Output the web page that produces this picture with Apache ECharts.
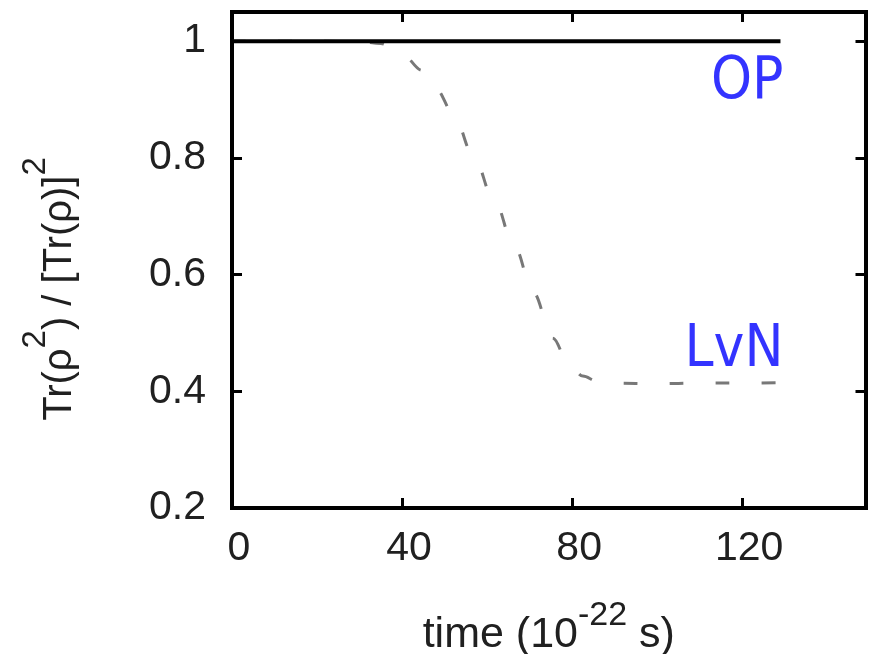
<!DOCTYPE html>
<html>
<head>
<meta charset="utf-8">
<script src="https://cdn.jsdelivr.net/npm/echarts@6/dist/echarts.min.js"></script>
<style>
  html, body { margin: 0; padding: 0; background: #fff; }
  #chart { width: 873px; height: 654px; }
</style>
</head>
<body>
<div id="chart"></div>
<script>
// Purity Tr(rho^2)/[Tr(rho)]^2 versus time (units of 1e-22 s)
const timeOP = [0, 129];
const purityOP = [1, 1];

const timeLvN = [0, 20, 30, 35, 40, 44.7, 48, 52, 56.7, 61.6, 66.5, 70.8, 75.5, 79, 82.5, 86, 90, 100, 110, 120, 129];
const purityLvN = [1, 1, 0.999, 0.996, 0.978, 0.950, 0.918, 0.877, 0.805, 0.728, 0.647, 0.570, 0.491, 0.450, 0.426, 0.417, 0.414, 0.413, 0.414, 0.414, 0.415];

const seriesNames = ['OP', 'LvN'];
const xTicks = [0, 40, 80, 120];
const yTicks = [0.2, 0.4, 0.6, 0.8, 1];

const FONT = 'Liberation Sans, Arial, sans-serif';
const LABEL_FONT = '"DejaVu Sans Condensed", "Liberation Sans Narrow", "DejaVu Sans", sans-serif';
const INK = '#202020';

function pairs(xs, ys) { return xs.map((x, i) => [x, ys[i]]); }
function lastPoint(xs, ys) { return [xs[xs.length - 1], ys[ys.length - 1]]; }

const frameLine = { show: true, onZero: false, lineStyle: { color: '#000', width: 4, cap: 'square' } };
const frameTick = { show: true, inside: true, length: 10, lineStyle: { color: '#000', width: 3 } };

function tickText(list) {
  return v => {
    const r = Math.round(v * 100) / 100;
    return list.includes(r) ? String(r) : '';
  };
}

const xBase = { type: 'value', min: 0, max: 149, interval: 40, splitLine: { show: false }, axisLine: frameLine, axisTick: frameTick };
const yBase = { type: 'value', min: 0.2, max: 1.05, interval: 0.2, splitLine: { show: false }, axisLine: frameLine, axisTick: frameTick };

const chart = echarts.init(document.getElementById('chart'), null, { renderer: 'canvas' });
chart.setOption({
  animation: false,
  backgroundColor: '#fff',
  grid: { left: 232, right: 7.5, top: 12, bottom: 146, containLabel: false, outerBoundsMode: 'none' },
  xAxis: [
    Object.assign({}, xBase, {
      position: 'bottom',
      axisLabel: {
        show: true, margin: 20, color: INK, fontFamily: FONT, fontSize: 41,
        padding: [0, 0, 0, 14], formatter: tickText(xTicks)
      },
      name: '{a|time (10}{s|-22}{a| s)}',
      nameLocation: 'middle',
      nameGap: 91,
      nameTextStyle: {
        color: INK, fontFamily: FONT, fontSize: 43,
        rich: {
          a: { fontFamily: FONT, fontSize: 43, lineHeight: 58, verticalAlign: 'bottom', color: INK },
          s: { fontFamily: FONT, fontSize: 34, lineHeight: 34, verticalAlign: 'top', color: INK }
        }
      }
    }),
    Object.assign({}, xBase, { position: 'top', axisLabel: { show: false } })
  ],
  yAxis: [
    Object.assign({}, yBase, {
      position: 'left',
      axisLabel: {
        show: true, margin: 26, color: INK, fontFamily: FONT, fontSize: 41,
        formatter: tickText(yTicks)
      },
      name: '{a|Tr(ρ}{s|2}{a|) / [Tr(ρ)]}{s|2}',
      nameLocation: 'middle',
      nameGap: 152,
      nameTextStyle: {
        color: INK, fontFamily: FONT, fontSize: 40,
        padding: [0, 58, 0, 0],
        rich: {
          a: { fontFamily: FONT, fontSize: 40, lineHeight: 61, verticalAlign: 'bottom', color: INK },
          s: { fontFamily: FONT, fontSize: 33, lineHeight: 33, verticalAlign: 'top', color: INK }
        }
      }
    }),
    Object.assign({}, yBase, { position: 'right', axisLabel: { show: false } })
  ],
  series: [
    {
      name: seriesNames[1],
      type: 'line',
      data: pairs(timeLvN, purityLvN),
      showSymbol: false,
      smooth: 0.35,
      smoothMonotone: 'x',
      lineStyle: { color: '#787878', width: 3, type: [14, 32] },
      z: 2
    },
    {
      name: seriesNames[0],
      type: 'line',
      data: pairs(timeOP, purityOP),
      showSymbol: false,
      lineStyle: { color: '#000', width: 4 },
      z: 3
    },
    {
      type: 'scatter',
      data: [lastPoint(timeOP, purityOP)],
      symbolSize: 0,
      silent: true,
      label: {
        show: true, formatter: seriesNames[0], position: 'inside', align: 'right', verticalAlign: 'middle',
        offset: [3, 42], color: '#0000ff', fontFamily: LABEL_FONT, fontSize: 58
      },
      z: 4
    },
    {
      type: 'scatter',
      data: [lastPoint(timeLvN, purityLvN)],
      symbolSize: 0,
      silent: true,
      label: {
        show: true, formatter: seriesNames[1], position: 'inside', align: 'right', verticalAlign: 'middle',
        offset: [3, -32], color: '#0000ff', fontFamily: LABEL_FONT, fontSize: 58
      },
      z: 4
    }
  ]
});
</script>
</body>
</html>
